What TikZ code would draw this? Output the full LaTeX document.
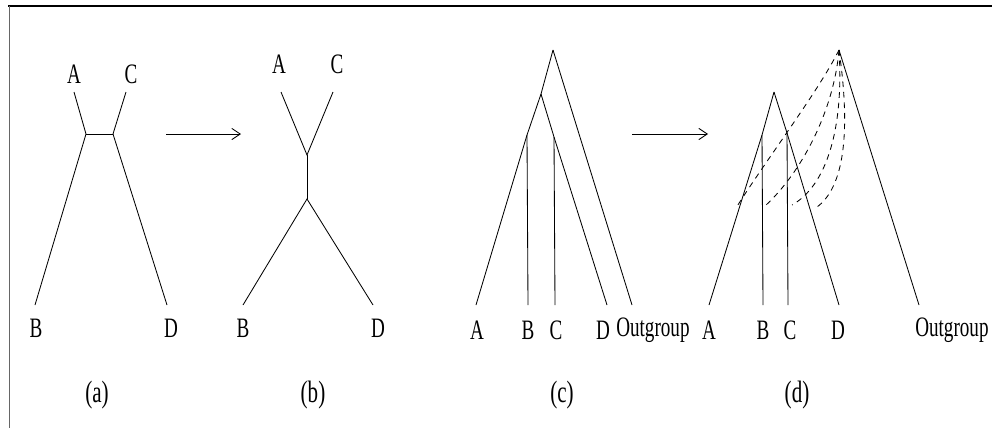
\documentclass[tikz,border=0pt]{standalone}
\usepackage{fontspec}
\setmainfont{Liberation Serif}[FakeStretch=0.68]
\usetikzlibrary{arrows.meta}
\tikzset{
  branch/.style={line width=0.6pt},
  swap/.style={branch,-{Straight Barb[length=6pt,width=8pt]}},
  regraft/.style={line width=0.6pt,dash pattern=on 4pt off 3.5pt},
  taxon/.style={inner sep=0pt,font=\fontsize{20}{22}\selectfont},
  panel/.style={inner sep=0pt,font=\fontsize{22}{24}\selectfont},
}
\begin{document}
\begin{tikzpicture}[x=0.025cm,y=-0.025cm]
\useasboundingbox (0,0) rectangle (992,428);
% frame
\draw[line width=1.2pt] (8,6) -- (992,6);
\draw[line width=0.6pt,black!60] (9,6) -- (9,428);
% (a) unrooted tree
\coordinate (aA) at (74,92);  \coordinate (aC) at (126,92);
\coordinate (aL) at (86,134); \coordinate (aR) at (113,134);
\coordinate (aB) at (35,305); \coordinate (aD) at (167,305);
\draw[branch] (aA) -- (aL) -- (aB);
\draw[branch] (aC) -- (aR) -- (aD);
\draw[branch] (aL) -- (aR);
\node[taxon] (laA) at (74,74) {A};
\node[taxon] (laC) at (131,74) {C};
\node[taxon] (laB) at (36,328) {B};
\node[taxon] (laD) at (171,328) {D};
\node[panel] (capa) at (97,395) {(a)};
% arrow a -> b
\coordinate (s1) at (166,134); \coordinate (e1) at (241,134);
\draw[swap] (s1) -- (e1);
% (b) rearranged tree
\coordinate (bA) at (281,92);  \coordinate (bC) at (333,92);
\coordinate (bU) at (307,155); \coordinate (bW) at (307,199);
\coordinate (bB) at (243,305); \coordinate (bD) at (373,305);
\draw[branch] (bA) -- (bU) -- (bC);
\draw[branch] (bU) -- (bW);
\draw[branch] (bB) -- (bW) -- (bD);
\node[taxon] (lbA) at (279,64) {A};
\node[taxon] (lbC) at (337,64) {C};
\node[taxon] (lbB) at (243,328) {B};
\node[taxon] (lbD) at (378,328) {D};
\node[panel] (capb) at (313,395) {(b)};
% (c) rooted tree with outgroup
\coordinate (cR) at (553,50);  \coordinate (cI) at (541,94);
\coordinate (cL) at (527,135); \coordinate (cM) at (554,137);
\coordinate (cA) at (476,305); \coordinate (cB) at (528,305);
\coordinate (cC) at (555,305); \coordinate (cD) at (607,305);
\coordinate (cO) at (632,305);
\draw[branch] (cR) -- (cI) -- (cL) -- (cA);
\draw[branch] (cR) -- (cO);
\draw[branch] (cI) -- (cM) -- (cD);
\draw[branch] (cL) -- (cB);
\draw[branch] (cM) -- (cC);
\node[taxon] (lcA) at (477,330) {A};
\node[taxon] (lcB) at (528,330) {B};
\node[taxon] (lcC) at (556,330) {C};
\node[taxon] (lcD) at (603,330) {D};
\node[taxon,anchor=west] (lcO) at (616,330) {Outgroup};
\node[panel] (capc) at (562,395) {(c)};
% arrow c -> d
\coordinate (s2) at (632,134); \coordinate (e2) at (708,134);
\draw[swap] (s2) -- (e2);
% (d) candidate root positions
\coordinate (dO) at (839,50);  \coordinate (dR) at (774,92);
\coordinate (dL) at (762,135); \coordinate (dM) at (787,133);
\coordinate (dA) at (709,305); \coordinate (dB) at (763,305);
\coordinate (dC) at (788,305); \coordinate (dD) at (839,305);
\coordinate (dOut) at (919,305);
\draw[branch] (dR) -- (dL) -- (dA);
\draw[branch] (dR) -- (dM) -- (dD);
\draw[branch] (dL) -- (dB);
\draw[branch] (dM) -- (dC);
\draw[branch] (dO) -- (dOut);
\coordinate (p1) at (736,208); \coordinate (p2) at (765,206);
\coordinate (p3) at (792,205); \coordinate (p4) at (814,209);
\draw[regraft] (dO) .. controls (818,92) and (766,160) .. (p1);
\draw[regraft] (dO) .. controls (834,110) and (802,172) .. (p2);
\draw[regraft] (dO) .. controls (844,130) and (826,186) .. (p3);
\draw[regraft] (dO) .. controls (852,140) and (842,192) .. (p4);
\node[taxon] (ldA) at (709,330) {A};
\node[taxon] (ldB) at (763,330) {B};
\node[taxon] (ldC) at (790,330) {C};
\node[taxon] (ldD) at (838,330) {D};
\node[taxon,anchor=west] (ldO) at (915,330) {Outgroup};
\node[panel] (capd) at (797,395) {(d)};
\end{tikzpicture}
\end{document}
